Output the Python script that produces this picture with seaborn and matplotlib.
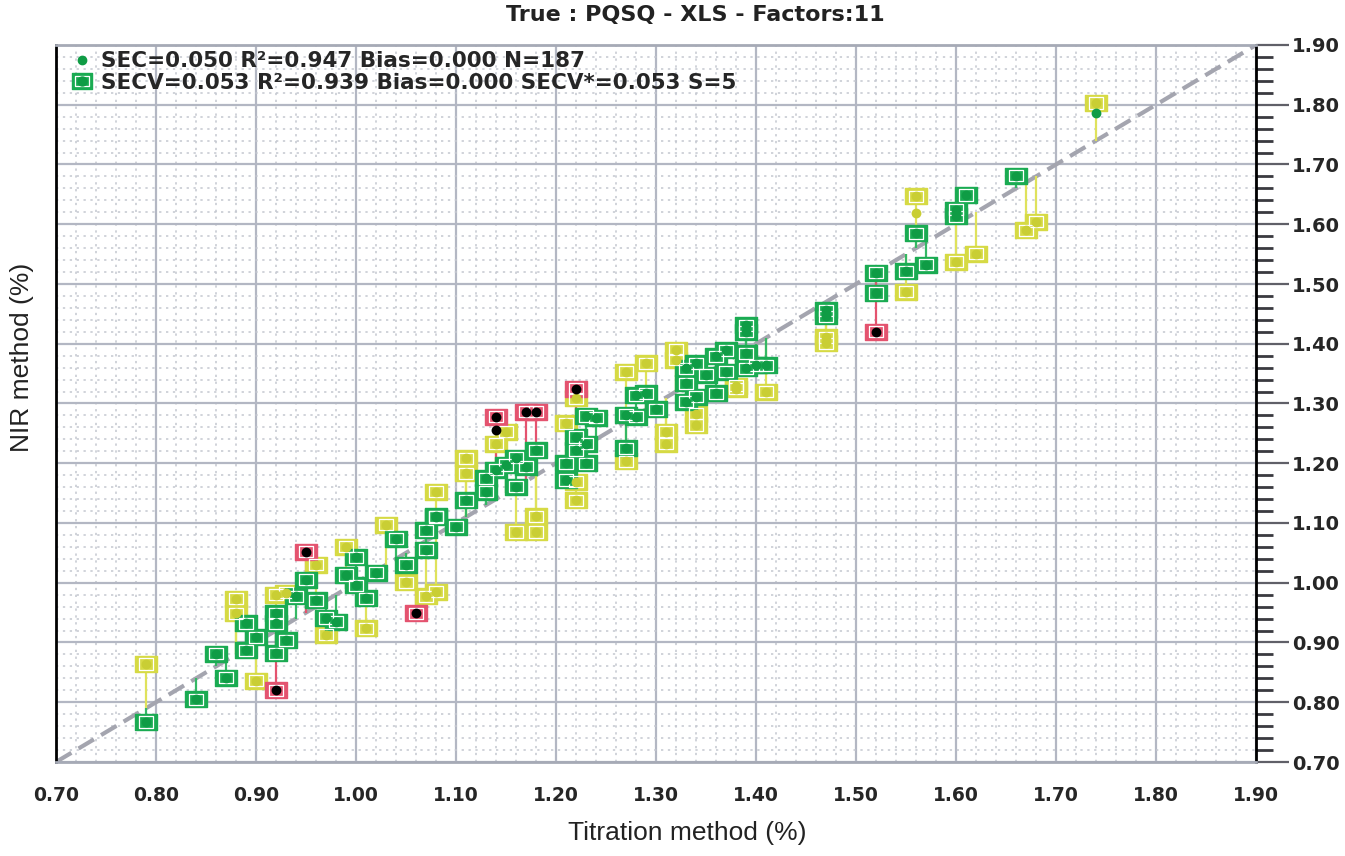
import pandas as pd
import seaborn as sns
import matplotlib
matplotlib.use("Agg")
from matplotlib import pyplot as plt
from matplotlib.lines import Line2D
from matplotlib.path import Path
from matplotlib.legend_handler import HandlerTuple
from matplotlib.ticker import MultipleLocator, FormatStrFormatter

# reference value (titration) and cross-validated NIR prediction per sample
titration = [0.79, 0.79, 0.84, 0.86, 0.87, 0.88, 0.88, 0.89, 0.89, 0.90,
             0.90, 0.92, 0.92, 0.92, 0.92, 0.92, 0.93, 0.94, 0.93, 0.95,
             0.95, 0.96, 0.96, 0.97, 0.97, 0.98, 0.99, 1.00, 0.99, 1.00,
             1.01, 1.01, 1.02, 1.03, 1.04, 1.05, 1.05, 1.06, 1.07, 1.07,
             1.07, 1.08, 1.08, 1.08, 1.08, 1.10, 1.11, 1.11, 1.11, 1.13,
             1.13, 1.14, 1.14, 1.14, 1.15, 1.15, 1.16, 1.16, 1.17, 1.18,
             1.16, 1.18, 1.18, 1.18, 1.17, 1.22, 1.22, 1.23, 1.21, 1.22,
             1.22, 1.21, 1.21, 1.23, 1.22, 1.22, 1.23, 1.24, 1.27, 1.27,
             1.27, 1.28, 1.28, 1.30, 1.27, 1.31, 1.31, 1.29, 1.29, 1.32,
             1.32, 1.33, 1.33, 1.33, 1.34, 1.34, 1.34, 1.34, 1.35, 1.36,
             1.36, 1.37, 1.37, 1.38, 1.38, 1.39, 1.39, 1.39, 1.39, 1.41,
             1.40, 1.41, 1.47, 1.47, 1.47, 1.47, 1.52, 1.52, 1.52, 1.55,
             1.55, 1.57, 1.56, 1.56, 1.60, 1.60, 1.61, 1.60, 1.62, 1.66,
             1.67, 1.68, 1.74]
nir_pred = [0.864, 0.767, 0.805, 0.881, 0.841, 0.973, 0.949, 0.932, 0.887, 0.836,
            0.909, 0.949, 0.882, 0.932, 0.820, 0.980, 0.904, 0.977, 0.983, 1.005,
            1.052, 1.030, 0.971, 0.941, 0.913, 0.935, 1.013, 1.043, 1.060, 0.996,
            0.974, 0.924, 1.017, 1.097, 1.074, 1.030, 1.001, 0.949, 1.055, 1.088,
            0.977, 1.110, 0.985, 1.152, 1.111, 1.094, 1.138, 1.208, 1.183, 1.175,
            1.152, 1.189, 1.278, 1.233, 1.253, 1.197, 1.209, 1.161, 1.194, 1.222,
            1.085, 1.111, 1.085, 1.286, 1.286, 1.325, 1.309, 1.279, 1.267, 1.244,
            1.222, 1.200, 1.172, 1.200, 1.169, 1.138, 1.233, 1.276, 1.281, 1.225,
            1.203, 1.314, 1.278, 1.290, 1.353, 1.253, 1.233, 1.367, 1.317, 1.390,
            1.373, 1.359, 1.334, 1.303, 1.311, 1.283, 1.264, 1.367, 1.348, 1.379,
            1.317, 1.389, 1.353, 1.330, 1.325, 1.384, 1.359, 1.431, 1.420, 1.364,
            1.364, 1.320, 1.456, 1.446, 1.411, 1.401, 1.519, 1.485, 1.420, 1.521,
            1.487, 1.532, 1.647, 1.585, 1.624, 1.613, 1.649, 1.537, 1.551, 1.681,
            1.590, 1.604, 1.803]
status = ['warn', 'ok', 'ok', 'ok', 'ok', 'warn', 'warn', 'ok', 'ok', 'warn',
          'ok', 'ok', 'ok', 'ok', 'out', 'warn', 'ok', 'ok', 'warn', 'ok',
          'out', 'warn', 'ok', 'ok', 'warn', 'ok', 'ok', 'ok', 'warn', 'ok',
          'ok', 'warn', 'ok', 'warn', 'ok', 'ok', 'warn', 'out', 'ok', 'ok',
          'warn', 'ok', 'warn', 'warn', 'ok', 'ok', 'ok', 'warn', 'warn', 'ok',
          'ok', 'ok', 'out', 'warn', 'warn', 'ok', 'ok', 'ok', 'ok', 'ok',
          'warn', 'warn', 'warn', 'out', 'out', 'out', 'warn', 'ok', 'warn', 'ok',
          'ok', 'ok', 'ok', 'ok', 'warn', 'warn', 'ok', 'ok', 'ok', 'ok',
          'warn', 'ok', 'ok', 'ok', 'warn', 'warn', 'warn', 'warn', 'ok', 'warn',
          'warn', 'ok', 'ok', 'ok', 'ok', 'warn', 'warn', 'ok', 'ok', 'ok',
          'ok', 'ok', 'ok', 'warn', 'warn', 'ok', 'ok', 'ok', 'ok', 'ok',
          'ok', 'warn', 'ok', 'ok', 'warn', 'warn', 'ok', 'ok', 'out', 'ok',
          'warn', 'ok', 'warn', 'ok', 'ok', 'ok', 'ok', 'warn', 'warn', 'ok',
          'warn', 'warn', 'warn']

# calibration dots that sit away from their cross-validation square
cal_x = [1.14, 1.56, 1.74]
cal_y = [1.255, 1.618, 1.787]
cal_status = ['out', 'warn', 'ok']

title = 'True : PQSQ - XLS - Factors:11'
sec_label = 'SEC=0.050 R²=0.947 Bias=0.000 N=187'
secv_label = 'SECV=0.053 R²=0.939 Bias=0.000 SECV*=0.053 S=5'

square_col = {'ok': '#1aab52', 'warn': '#d6da44', 'out': '#e4536f'}
dot_col = {'ok': '#0f9c45', 'warn': '#c9ce34', 'out': '#000000'}
line_col = {'ok': '#35b865', 'warn': '#dfe25c', 'out': '#e4536f'}
order = {'warn': 0, 'ok': 1, 'out': 2}

df = pd.DataFrame({'titration': titration, 'nir': nir_pred, 'status': status})
df['rank'] = df['status'].map(order)
df = df.sort_values('rank', kind='stable')
cal = pd.DataFrame({'titration': cal_x, 'nir': cal_y, 'status': cal_status})

sns.set_theme(style='white')
plt.rcParams['font.family'] = ['DejaVu Sans']

fig = plt.figure(figsize=(13.45, 8.56), dpi=100)
ax = fig.add_axes([56 / 1345, 94 / 856, 1200 / 1345, 717 / 856])

rect = Path([(-1, -0.78), (1, -0.78), (1, 0.78), (-1, 0.78), (-1, -0.78)],
            [Path.MOVETO, Path.LINETO, Path.LINETO, Path.LINETO, Path.CLOSEPOLY])

# residual lines from the 1:1 line to each prediction
for st in ['warn', 'ok', 'out']:
    sub = df[df['status'] == st]
    ax.vlines(sub['titration'], sub['titration'], sub['nir'], colors=line_col[st], lw=1.6, zorder=2)

ax.plot([0.7, 1.9], [0.7, 1.9], ls=(0, (4.3, 2.0)), color='#a4a5af', lw=3, zorder=1.8)

for st in ['warn', 'ok', 'out']:
    sub = df[df['status'] == st]
    sns.scatterplot(data=sub, x='titration', y='nir', marker=rect, s=235, color=square_col[st],
                    edgecolor=square_col[st], linewidth=1, ax=ax, zorder=3, legend=False)
    ax.scatter(sub['titration'], sub['nir'], marker=rect, s=105, facecolors='none',
               edgecolors='white', linewidths=0.9, zorder=3.1)
    sns.scatterplot(data=sub, x='titration', y='nir', marker='o', s=50, color=dot_col[st],
                    edgecolor=dot_col[st], linewidth=0, ax=ax, zorder=3.2, legend=False)

for st in cal_status:
    sub = cal[cal['status'] == st]
    sns.scatterplot(data=sub, x='titration', y='nir', marker='o', s=50, color=dot_col[st],
                    edgecolor=dot_col[st], linewidth=0, ax=ax, zorder=3.3, legend=False)

ax.set_xlim(0.7, 1.9)
ax.set_ylim(0.7, 1.9)
ax.xaxis.set_major_locator(MultipleLocator(0.1))
ax.xaxis.set_minor_locator(MultipleLocator(0.02))
ax.yaxis.set_major_locator(MultipleLocator(0.1))
ax.yaxis.set_minor_locator(MultipleLocator(0.02))
ax.xaxis.set_major_formatter(FormatStrFormatter('%.2f'))
ax.yaxis.set_major_formatter(FormatStrFormatter('%.2f'))

ax.set_axisbelow(True)
ax.grid(which='major', color='#b3b7c3', lw=1.6)
ax.grid(which='minor', color='#c4c7d0', lw=1.1, ls=(0, (1.5, 3)))

ax.tick_params(axis='x', which='major', direction='out', length=11, width=2, color='black',
               labelsize=13.5, pad=6)
ax.tick_params(axis='x', which='minor', direction='out', length=7, width=2, color='black')
ax.tick_params(axis='y', which='both', left=False, labelleft=False, right=True, labelright=True)
ax.tick_params(axis='y', which='major', direction='out', length=24, width=1.6, color='#606068',
               labelsize=14, pad=2)
ax.tick_params(axis='y', which='minor', direction='out', length=12, width=2, color='#3a3a40')
for lab in ax.get_xticklabels() + ax.get_yticklabels():
    lab.set_fontweight('bold')

ax.spines['left'].set_color('black')
ax.spines['left'].set_linewidth(2)
ax.spines['right'].set_color('black')
ax.spines['right'].set_linewidth(2)
ax.spines['top'].set_color('#a6aab6')
ax.spines['top'].set_linewidth(2)
ax.spines['bottom'].set_color('#a6aab6')
ax.spines['bottom'].set_linewidth(2)
ax.set_xlabel('')
ax.set_ylabel('')

h_sec = Line2D([], [], ls='', marker='o', ms=6, color=dot_col['ok'])
h_sq = Line2D([], [], ls='', marker=rect, ms=14, color=square_col['ok'])
h_ring = Line2D([], [], ls='', marker=rect, ms=9.5, mfc='none', mec='white', mew=0.9)
h_dot = Line2D([], [], ls='', marker='o', ms=6.5, color=dot_col['ok'])
leg = ax.legend([h_sec, (h_sq, h_ring, h_dot)], [sec_label, secv_label],
                handler_map={tuple: HandlerTuple(ndivide=1, pad=0)},
                loc='upper left', bbox_to_anchor=(0.0, 1.012), frameon=False,
                prop={'weight': 'bold', 'size': 15.5}, handlelength=1.0,
                handletextpad=0.4, labelspacing=0.05, borderaxespad=0.3)

fig.text(695 / 1345, 1 - 15 / 856, title, ha='center', va='center', fontsize=16,
         fontweight='bold', color='#222222')
fig.text(687 / 1345, 1 - 833 / 856, 'Titration method (%)', ha='center', va='center',
         fontsize=19, family='Liberation Sans', color='#222222')
fig.text(22 / 1345, 1 - 357 / 856, 'NIR method (%)', ha='center', va='center',
         rotation=90, fontsize=19, family='Liberation Sans', color='#222222')

fig.savefig('out.png', dpi=100)
